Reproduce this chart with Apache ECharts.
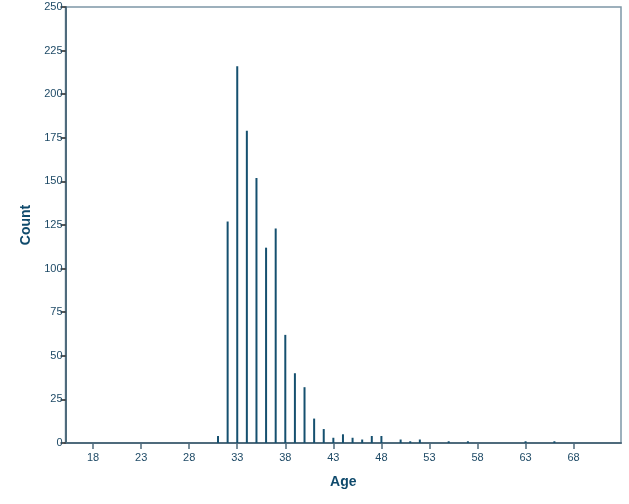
<!DOCTYPE html>
<html>
<head>
<meta charset="utf-8">
<script src="https://cdn.jsdelivr.net/npm/echarts@6/dist/echarts.min.js"></script>
<style>
  html, body { margin: 0; padding: 0; background: #fff; }
  #chart { width: 629px; height: 504px; }
</style>
</head>
<body>
<div id="chart"></div>
<script>
const ages = [31, 32, 33, 34, 35, 36, 37, 38, 39, 40, 41, 42, 43, 44, 45, 46, 47, 48, 50, 51, 52, 55, 57, 63, 66]
const counts = [4, 127, 216, 179, 152, 112, 123, 62, 40, 32, 14, 8, 3, 5, 3, 2, 4, 4, 2, 1, 2, 1, 1, 1, 1]
const xTicks = [18, 23, 28, 33, 38, 43, 48, 53, 58, 63, 68]

const axisColor = '#4f6b7c'
const textColor = '#1e4a66'
const titleColor = '#0f4a6c'

const chart = echarts.init(document.getElementById('chart'))

chart.setOption({
  animation: false,
  textStyle: { fontFamily: 'Liberation Sans, Arial, sans-serif' },
  grid: {
    left: 65.5, right: 8, top: 7, bottom: 61,
    show: true, borderColor: '#7d97a6', borderWidth: 1.5,
    containLabel: false
  },
  xAxis: {
    type: 'value',
    min: 15.13,
    max: 72.93,
    name: 'Age',
    nameLocation: 'middle',
    nameGap: 32,
    nameTextStyle: { color: titleColor, fontSize: 14, fontWeight: 'bold' },
    splitLine: { show: false },
    axisLine: { lineStyle: { color: axisColor, width: 2 } },
    axisTick: { customValues: xTicks, length: 6, lineStyle: { color: axisColor, width: 1.5 } },
    axisLabel: { customValues: xTicks, color: textColor, fontSize: 11, margin: 9 }
  },
  yAxis: {
    type: 'value',
    min: 0,
    max: 250,
    interval: 25,
    name: 'Count',
    nameLocation: 'middle',
    nameGap: 31,
    nameRotate: 90,
    nameTextStyle: { color: titleColor, fontSize: 14, fontWeight: 'bold' },
    splitLine: { show: false },
    axisLine: { show: true, lineStyle: { color: axisColor, width: 2 } },
    axisTick: { show: true, length: 5, lineStyle: { color: '#222', width: 1.5 } },
    axisLabel: { color: textColor, fontSize: 11, margin: 3 }
  },
  series: [{
    type: 'bar',
    barWidth: 2,
    itemStyle: { color: '#15506f' },
    data: ages.map((a, i) => [a, counts[i]])
  }]
})
</script>
</body>
</html>
